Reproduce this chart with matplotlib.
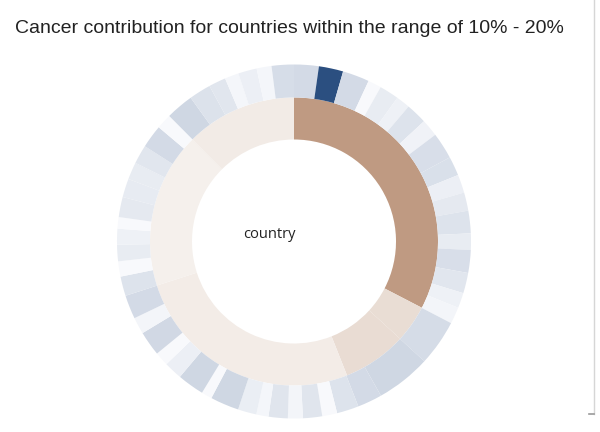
import matplotlib.pyplot as plt
from matplotlib.colors import LinearSegmentedColormap
from matplotlib.lines import Line2D

# inner ring: country groups (angular share in degrees, clockwise from 12 o'clock)
inner_sizes = [117.4, 15.1, 25.9, 93.8, 62.9, 44.9]
inner_shade = [1.0, 0.34, 0.35, 0.19, 0.15, 0.20]

# outer ring: one wedge per country, grouped under the inner segments
outer_sizes = [
    # group 1
    8.1, 8.0, 8.8, 4.4, 6.4, 4.6, 6.9, 5.7, 8.7, 6.3, 6.0, 6.0, 7.4, 5.4, 7.5, 6.7, 5.0, 5.5,
    # group 2
    15.1, 18.0, 8.1,
    # group 3
    7.2, 4.9, 6.3, 4.9, 6.3, 4.0, 6.1, 9.4, 3.5, 8.8, 6.0, 4.6, 8.1, 5.5, 7.8,
    # group 4
    6.4, 5.0, 5.4, 5.2, 3.8, 6.6, 6.1, 5.7, 6.2, 7.6, 5.0,
    # group 5
    9.1, 7.2, 5.6, 4.6, 6.1, 4.9, 7.3,
]
outer_shade = [
    0.18, 1.0, 0.18, 0.0, 0.08, 0.05, 0.13, 0.04, 0.16, 0.15, 0.06, 0.095, 0.13, 0.08, 0.16, 0.11, 0.05, 0.025,
    0.17, 0.20, 0.18,
    0.13, 0.0, 0.12, 0.025, 0.12, 0.02, 0.07, 0.20, 0.0, 0.20, 0.06, 0.0, 0.195, 0.025, 0.18,
    0.13, 0.0, 0.08, 0.05, 0.0, 0.095, 0.085, 0.08, 0.11, 0.18, 0.0,
    0.20, 0.14, 0.11, 0.02, 0.06, 0.02, 0.165,
]

title = "Cancer contribution for countries within the range of 10% - 20%"
center_label = "country"

inner_cmap = LinearSegmentedColormap.from_list("inner", ["#FFFFFF", "#BF9A82"])
outer_cmap = LinearSegmentedColormap.from_list("outer", ["#F8F9FC", "#2B4F80"])

fig = plt.figure(figsize=(6, 4.32), dpi=100)
ax = fig.add_axes([117 / 600, 13.5 / 432, 354 / 600, 354 / 432])

r_out = 1.0
r_mid = 144 / 177
r_in = 102 / 177

ax.pie(inner_sizes, radius=r_mid, startangle=90, counterclock=False,
       colors=[inner_cmap(v) for v in inner_shade],
       wedgeprops=dict(width=r_mid - r_in, edgecolor="none", linewidth=0))
ax.pie(outer_sizes, radius=r_out, startangle=90, counterclock=False,
       colors=[outer_cmap(v) for v in outer_shade],
       wedgeprops=dict(width=r_out - r_mid, edgecolor="none", linewidth=0))

ax.text(-25 / 177, 7 / 177, center_label, ha="center", va="center",
        fontsize=10.5, family=["Open Sans", "DejaVu Sans"], color="#222222")
ax.set_xlim(-1, 1)
ax.set_ylim(-1, 1)
ax.set_aspect("equal")
ax.axis("off")

fig.text(15 / 600, 1 - 33 / 432, title, ha="left", va="baseline",
         fontsize=14, family=["Liberation Sans", "DejaVu Sans"], color="#222222")

# panel border on the right edge
fig.add_artist(Line2D([594 / 600, 594 / 600], [1.0, 1 - 414 / 432],
                      color="#D6D6D6", linewidth=1))
fig.add_artist(Line2D([589 / 600, 594 / 600], [1 - 414 / 432, 1 - 414 / 432],
                      color="#9A9A9A", linewidth=1.2))

fig.savefig("out.png", dpi=100)
